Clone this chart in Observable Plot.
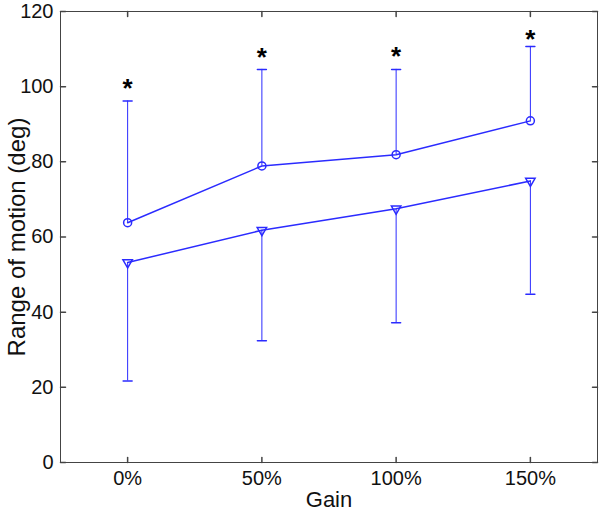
<!DOCTYPE html>
<html>
<head>
<meta charset="utf-8">
<script src="https://cdn.jsdelivr.net/npm/d3@7"></script>
<script src="https://cdn.jsdelivr.net/npm/@observablehq/plot@0.6"></script>
<style>
  html, body { margin: 0; padding: 0; background: #fff; }
  #chart { width: 600px; height: 513px; }
</style>
</head>
<body>
<div id="chart"></div>
<script>
// Gain levels (%)
const gains = [0, 50, 100, 150];
// Upper series (circles) and its upper error bar end
const circleMean = [63.8, 78.9, 81.9, 90.9];
const circleUpper = [96.2, 104.6, 104.6, 110.7];
// Lower series (triangles) and its lower error bar end
const triMean = [53.2, 61.8, 67.5, 74.9];
const triLower = [21.7, 32.4, 37.2, 44.8];
// Significance asterisk positions
const starY = [100.6, 108.7, 109.1, 113.6];
const yTicks = [0, 20, 40, 60, 80, 100, 120];
const xTicks = gains;
const xLabel = "Gain";
const yLabel = "Range of motion (deg)";

const circles = gains.map((g, i) => ({gain: g, mean: circleMean[i], upper: circleUpper[i], star: starY[i]}));
const tris = gains.map((g, i) => ({gain: g, mean: triMean[i], lower: triLower[i]}));

const blue = "#2b2bff";
const frameColor = "#444";
const lineShape = {draw(context, l) { context.moveTo(0, 0); context.lineTo(0, -l); }};

const chart = Plot.plot({
  width: 600,
  height: 513,
  marginLeft: 60,
  marginRight: 3,
  marginTop: 11,
  marginBottom: 51,
  style: {fontFamily: "'Liberation Sans', Arial, sans-serif", fontSize: "20px", color: "#111", background: "#fff"},
  x: {type: "linear", domain: [-25, 175]},
  y: {domain: [0, 120]},
  marks: [
    Plot.frame({stroke: frameColor}),
    // inward ticks on all four sides
    Plot.vector(yTicks, {y: d => d, frameAnchor: "left", rotate: 90, length: 5, anchor: "start", shape: lineShape, stroke: frameColor}),
    Plot.vector(yTicks, {y: d => d, frameAnchor: "right", rotate: -90, length: 5, anchor: "start", shape: lineShape, stroke: frameColor}),
    Plot.vector(xTicks, {x: d => d, frameAnchor: "bottom", rotate: 0, length: 5, anchor: "start", shape: lineShape, stroke: frameColor}),
    Plot.vector(xTicks, {x: d => d, frameAnchor: "top", rotate: 180, length: 5, anchor: "start", shape: lineShape, stroke: frameColor}),
    Plot.axisY({ticks: yTicks, tickSize: 0, tickPadding: 7, label: null, fill: "#111"}),
    Plot.axisY({ticks: [], tickSize: 0, label: yLabel, labelAnchor: "center", labelArrow: "none", labelOffset: 53, fontSize: 24, fill: "#111"}),
    Plot.axisX({ticks: xTicks, tickSize: 0, tickPadding: 8, tickFormat: d => d + "%", label: null, fill: "#111"}),
    Plot.text([xLabel], {frameAnchor: "bottom", dy: 37, fontSize: 22, fill: "#111", lineAnchor: "middle"}),
    // error bars
    Plot.ruleX(circles, {x: "gain", y1: "mean", y2: "upper", stroke: blue}),
    Plot.vector(circles, {x: "gain", y: "upper", rotate: 90, length: 9, anchor: "middle", shape: lineShape, stroke: blue}),
    Plot.ruleX(tris, {x: "gain", y1: "mean", y2: "lower", stroke: blue}),
    Plot.vector(tris, {x: "gain", y: "lower", rotate: 90, length: 9, anchor: "middle", shape: lineShape, stroke: blue}),
    // lines
    Plot.line(circles, {x: "gain", y: "mean", stroke: blue}),
    Plot.line(tris, {x: "gain", y: "mean", stroke: blue}),
    // markers
    Plot.dot(circles, {x: "gain", y: "mean", r: 4, symbol: "circle", stroke: blue, fill: "none"}),
    Plot.dot(tris, {x: "gain", y: "mean", r: 3.5, symbol: "triangle", rotate: 180, stroke: blue, fill: "none"}),
    // significance markers
    Plot.text(circles, {x: "gain", y: "star", text: () => "*", fontSize: 26, fontWeight: "bold", fill: "#000", dy: 4})
  ]
});
document.getElementById("chart").appendChild(chart);
</script>
</body>
</html>
